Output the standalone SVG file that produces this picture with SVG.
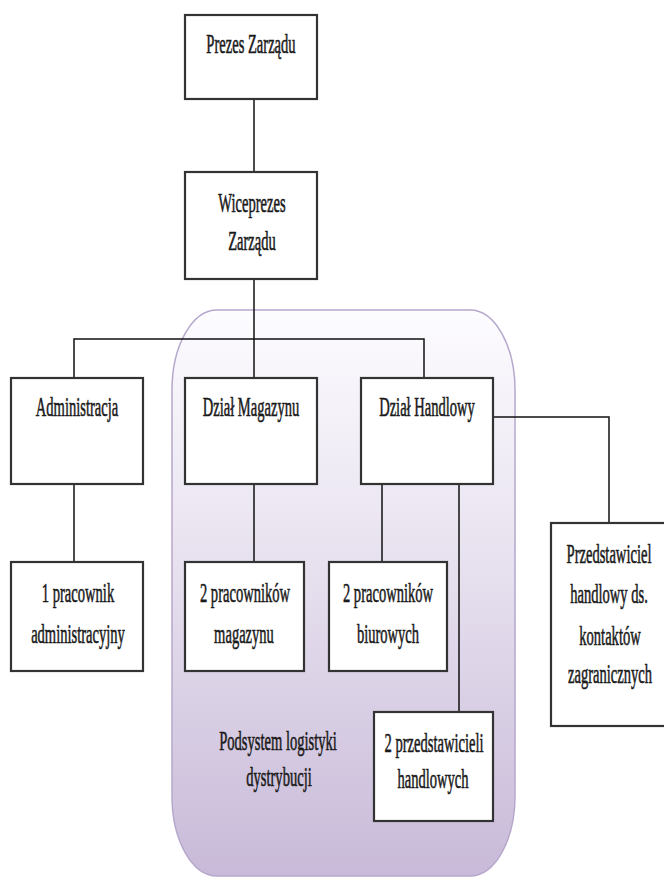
<svg xmlns="http://www.w3.org/2000/svg" width="664" height="878" viewBox="0 0 664 878">
<defs>
<linearGradient id="grad" x1="0" y1="0" x2="0" y2="1">
<stop offset="0" stop-color="#fdfcff"/>
<stop offset="0.45" stop-color="#e7e1ef"/>
<stop offset="1" stop-color="#c8bad8"/>
</linearGradient>
<style>
.box{fill:#fff;stroke:#333;stroke-width:2.2}
.t{font-family:"Liberation Serif",serif;font-size:28px;fill:#1a1a1a;stroke:#1a1a1a;stroke-width:0.6;text-anchor:middle}
.c{fill:none;stroke:#111;stroke-width:1.5}
</style>
</defs>
<rect width="664" height="878" fill="#fff"/>
<g id="podsystem">
<rect x="172" y="310" width="343" height="566" rx="45" ry="80" fill="url(#grad)" stroke="#b6a8cc" stroke-width="1.5"/>
<text class="t" transform="translate(278 750) scale(0.52 1)">Podsystem logistyki</text>
<text class="t" transform="translate(279 786) scale(0.52 1)">dystrybucji</text>
</g>
<g id="connectors">
<path class="c" d="M254 99V172"/>
<path class="c" d="M254 279V378"/>
<path class="c" d="M74 378V339H424V378"/>
<path class="c" d="M74 484V562"/>
<path class="c" d="M254 484V562"/>
<path class="c" d="M382 484V562"/>
<path class="c" d="M459 484V712"/>
<path class="c" d="M493 417H609V523"/>
</g>
<g id="prezes">
<rect class="box" x="185" y="15" width="132" height="84"/>
<text class="t" transform="translate(251 53) scale(0.52 1)">Prezes Zarządu</text>
</g>
<g id="wiceprezes">
<rect class="box" x="185" y="172" width="132" height="107"/>
<text class="t" transform="translate(252 212) scale(0.52 1)">Wiceprezes</text>
<text class="t" transform="translate(252 250) scale(0.52 1)">Zarządu</text>
</g>
<g id="administracja">
<rect class="box" x="11" y="378" width="132" height="106"/>
<text class="t" transform="translate(77 416) scale(0.52 1)">Administracja</text>
</g>
<g id="magazyn">
<rect class="box" x="185" y="378" width="132" height="106"/>
<text class="t" transform="translate(251 416) scale(0.52 1)">Dział Magazynu</text>
</g>
<g id="handlowy">
<rect class="box" x="361" y="378" width="132" height="106"/>
<text class="t" transform="translate(427 416) scale(0.52 1)">Dział Handlowy</text>
</g>
<g id="pracownik-adm">
<rect class="box" x="11" y="562" width="132" height="109"/>
<text class="t" transform="translate(78 602) scale(0.52 1)">1 pracownik</text>
<text class="t" transform="translate(78 643) scale(0.52 1)">administracyjny</text>
</g>
<g id="pracownicy-mag">
<rect class="box" x="185" y="562" width="119" height="109"/>
<text class="t" transform="translate(245 602) scale(0.52 1)">2 pracowników</text>
<text class="t" transform="translate(244 643) scale(0.52 1)">magazynu</text>
</g>
<g id="pracownicy-biur">
<rect class="box" x="329" y="562" width="118" height="109"/>
<text class="t" transform="translate(388 602) scale(0.52 1)">2 pracowników</text>
<text class="t" transform="translate(388 643) scale(0.52 1)">biurowych</text>
</g>
<g id="przedstawiciele">
<rect class="box" x="374" y="712" width="119" height="109"/>
<text class="t" transform="translate(434 752) scale(0.52 1)">2 przedstawicieli</text>
<text class="t" transform="translate(433 788) scale(0.52 1)">handlowych</text>
</g>
<g id="przedstawiciel-zagr">
<rect class="box" x="551" y="523" width="116" height="203"/>
<text class="t" transform="translate(609 563) scale(0.52 1)">Przedstawiciel</text>
<text class="t" transform="translate(609 603) scale(0.52 1)">handlowy ds.</text>
<text class="t" transform="translate(610 645) scale(0.52 1)">kontaktów</text>
<text class="t" transform="translate(610 683) scale(0.52 1)">zagranicznych</text>
</g>
</svg>
